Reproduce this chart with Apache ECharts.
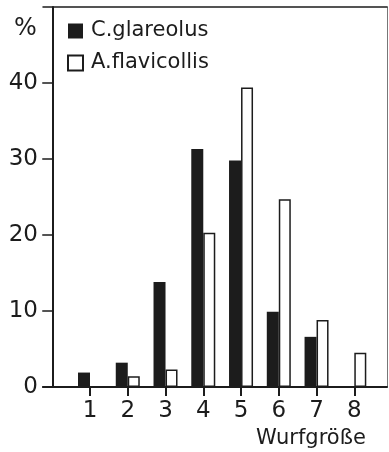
<!DOCTYPE html>
<html>
<head>
<meta charset="utf-8">
<script src="https://cdn.jsdelivr.net/npm/echarts@6/dist/echarts.min.js"></script>
<style>
  html, body { margin: 0; padding: 0; background: #fff; }
  #chart { width: 389px; height: 452px; }
</style>
</head>
<body>
<div id="chart"></div>
<script>
// litter size (Wurfgröße) and share of litters in %
let litterSizes = [1, 2, 3, 4, 5, 6, 7, 8];
let glareolus = [1.9, 3.2, 13.8, 31.3, 29.8, 9.9, 6.6, null];
let flavicollis = [null, 1.4, 2.3, 20.3, 39.4, 24.7, 8.8, 4.5];
let yTicks = [0, 10, 20, 30, 40];

let ink = '#1c1c1c';
let font = 'DejaVu Sans';

function pairs(values)
{
    return litterSizes
        .map((x, i) => [x, values[i]])
        .filter(p => p[1] !== null);
}

let myChart = echarts.init(document.getElementById('chart'));

let option = {
    animation: false,
    backgroundColor: '#fff',
    textStyle: {fontFamily: font, color: ink},
    grid: {left: 43, right: 2, top: 7, bottom: 65},
    legend: {
        orient: 'vertical',
        left: 62,
        top: 15,
        itemWidth: 15,
        itemHeight: 15,
        itemGap: 10,
        icon: 'rect',
        textStyle: {fontFamily: font, fontSize: 21, lineHeight: 22, color: ink, padding: [0, 0, 0, 3]},
        data: ['C.glareolus', 'A.flavicollis']
    },
    xAxis: [{
        type: 'value',
        min: -0.245,
        max: 8.866,
        splitLine: {show: false},
        axisLine: {onZero: false, lineStyle: {color: ink, width: 2}},
        axisTick: {show: true, length: 9, lineStyle: {color: ink, width: 2}, customValues: litterSizes},
        axisLabel: {fontSize: 23, color: ink, margin: 13, customValues: litterSizes}
    }, {
        type: 'value',
        position: 'top',
        min: -0.245,
        max: 8.866,
        splitLine: {show: false},
        axisLine: {show: true, onZero: false, lineStyle: {color: ink, width: 1.5}},
        axisTick: {show: false},
        axisLabel: {show: false}
    }],
    yAxis: [{
        type: 'value',
        min: 0,
        max: 50,
        splitLine: {show: false},
        axisLine: {show: true, onZero: true, lineStyle: {color: ink, width: 2}},
        axisTick: {show: true, length: 10, lineStyle: {color: ink, width: 1.5}, customValues: yTicks},
        axisLabel: {fontSize: 23, color: ink, margin: 5, customValues: yTicks}
    }, {
        type: 'value',
        position: 'right',
        min: 0,
        max: 50,
        splitLine: {show: false},
        axisLine: {show: true, onZero: false, lineStyle: {color: '#777', width: 1}},
        axisTick: {show: false},
        axisLabel: {show: false}
    }],
    series: [{
        name: 'C.glareolus',
        type: 'bar',
        barWidth: 12,
        barGap: '0%',
        itemStyle: {color: ink},
        data: pairs(glareolus)
    }, {
        name: 'A.flavicollis',
        type: 'bar',
        barWidth: 12,
        barGap: '0%',
        itemStyle: {color: '#fff', borderColor: ink, borderWidth: 1.5},
        data: pairs(flavicollis)
    }],
    graphic: [{
        type: 'text',
        left: 14,
        top: 17,
        style: {text: '%', font: '24px "DejaVu Sans"', fill: ink}
    }, {
        type: 'text',
        left: 256,
        top: 428,
        style: {text: 'Wurfgröße', font: '21px "DejaVu Sans"', fill: ink}
    }]
};

myChart.setOption(option);
</script>
</body>
</html>
